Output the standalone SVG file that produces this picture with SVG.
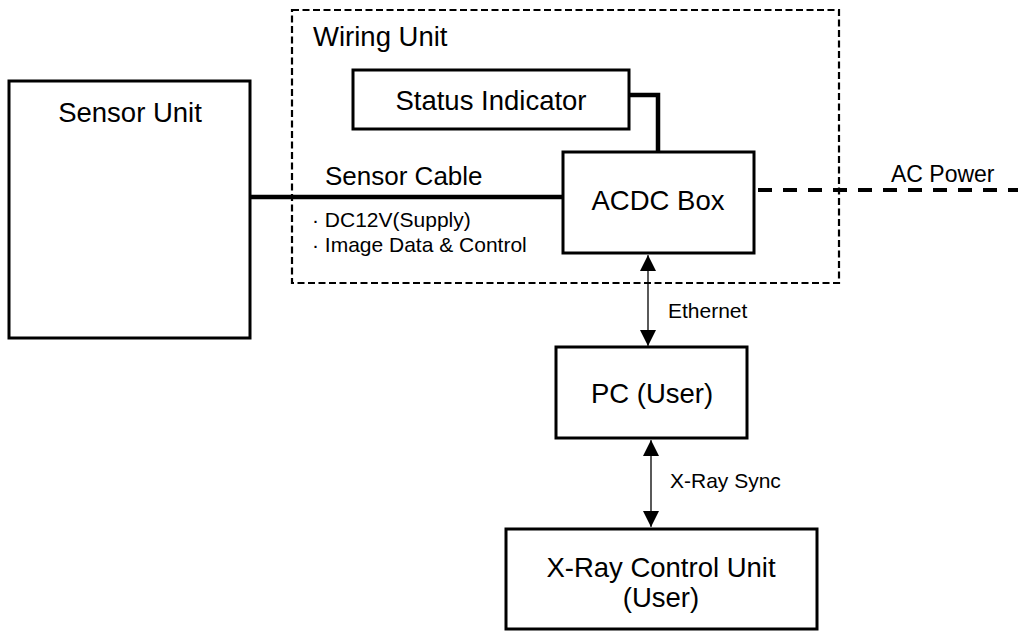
<svg xmlns="http://www.w3.org/2000/svg" width="1018" height="631" viewBox="0 0 1018 631">
<style>
text{font-family:"Liberation Sans",Arial,sans-serif;fill:#000}
.box{fill:#fff;stroke:#000;stroke-width:3}
.big{font-size:27.5px}
.mid{font-size:26px}
.sm{font-size:21px}
.thick{stroke:#000;stroke-width:4.5;fill:none}
.thin{stroke:#000;stroke-width:1.3;fill:none}
</style>
<defs>
<marker id="ah" viewBox="0 0 14 16" refX="16" refY="8" markerWidth="16" markerHeight="16" markerUnits="userSpaceOnUse" orient="auto-start-reverse">
<path d="M0,0 L16,8 L0,16 z" fill="#000"/>
</marker>
</defs>
<rect width="1018" height="631" fill="#fff"/>
<g id="wiring-unit">
<rect x="292" y="10" width="547" height="273" fill="none" stroke="#000" stroke-width="2.2" stroke-dasharray="7,3.5"/>
<text x="313" y="46" class="big">Wiring Unit</text>
</g>
<g id="connectors">
<line x1="250" y1="197" x2="563" y2="197" class="thick"/>
<polyline points="627,95 658,95 658,152" class="thick"/>
<line x1="758" y1="190" x2="1018" y2="190" stroke="#000" stroke-width="4" stroke-dasharray="14,11"/>
<line x1="648" y1="255" x2="648" y2="346" class="thin" marker-start="url(#ah)" marker-end="url(#ah)"/>
<line x1="651" y1="440" x2="651" y2="527" class="thin" marker-start="url(#ah)" marker-end="url(#ah)"/>
<text x="325" y="185" class="mid">Sensor Cable</text>
<text x="312" y="227" class="sm">· DC12V(Supply)</text>
<text x="312" y="252" class="sm">· Image Data &amp; Control</text>
<text x="891" y="182" style="font-size:23px">AC Power</text>
<text x="668" y="318" class="sm">Ethernet</text>
<text x="670" y="488" class="sm">X-Ray Sync</text>
</g>
<g id="sensor-unit">
<rect x="9" y="81" width="241" height="257" class="box"/>
<text x="130" y="122" class="big" text-anchor="middle">Sensor Unit</text>
</g>
<g id="status-indicator">
<rect x="353" y="70" width="276" height="59" class="box"/>
<text x="491" y="110" class="big" text-anchor="middle">Status Indicator</text>
</g>
<g id="acdc-box">
<rect x="563" y="152" width="191" height="101" class="box"/>
<text x="658" y="210" class="big" text-anchor="middle">ACDC Box</text>
</g>
<g id="pc">
<rect x="556" y="347" width="191" height="91" class="box"/>
<text x="652" y="403" class="big" text-anchor="middle">PC (User)</text>
</g>
<g id="xray-control">
<rect x="506" y="529" width="311" height="100" class="box"/>
<text x="661" y="577" class="big" text-anchor="middle">X-Ray Control Unit</text>
<text x="661" y="607" class="big" text-anchor="middle">(User)</text>
</g>
</svg>
